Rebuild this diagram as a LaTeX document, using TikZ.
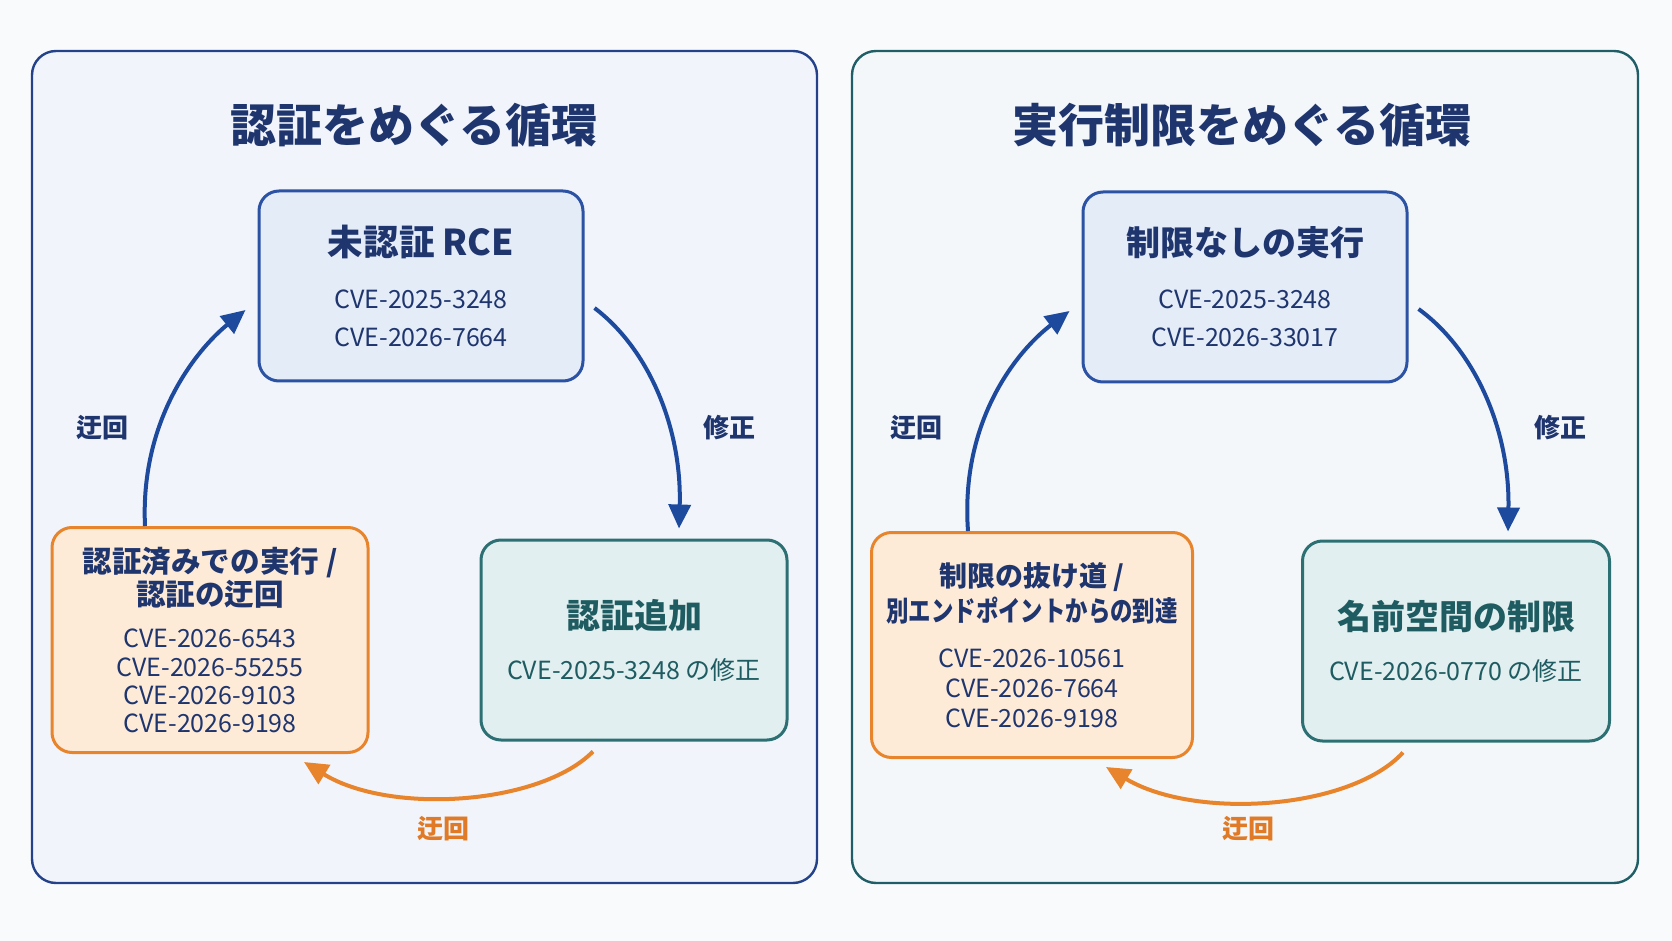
\documentclass[tikz,border=0pt]{standalone}
\usepackage{fontspec}
\setmainfont{Noto Sans CJK JP}
\newfontfamily\jpnarrow[FakeStretch=0.8]{Noto Sans CJK JP}
\usetikzlibrary{arrows.meta}
\definecolor{pagebg}{HTML}{F9FAFC}
\definecolor{navytext}{HTML}{1F356E}
\definecolor{arrowblue}{HTML}{1E4A9E}
\definecolor{panelblue}{HTML}{24428A}
\definecolor{panelteal}{HTML}{1F5E66}
\definecolor{panelfillL}{HTML}{F1F5FB}
\definecolor{panelfillR}{HTML}{F3F7F9}
\definecolor{topfill}{HTML}{E4ECF8}
\definecolor{topline}{HTML}{2C52A3}
\definecolor{bypline}{HTML}{E8842C}
\definecolor{bypfill}{HTML}{FDEBD8}
\definecolor{fixline}{HTML}{2C7074}
\definecolor{fixfill}{HTML}{E2EFF0}
\definecolor{fixtext}{HTML}{1E5C61}
\definecolor{detourtext}{HTML}{E07A26}

\begin{document}
\begin{tikzpicture}[x=0.5pt, y=-0.5pt,
	panel/.style={line width=1.2pt, rounded corners=12pt},
	cycbox/.style={rectangle, rounded corners=10pt, line width=1.5pt, align=center, inner sep=0pt},
	topbox/.style={cycbox, draw=topline, fill=topfill, text=navytext, minimum width=162pt, minimum height=95pt, font=\fontsize{12.5}{19}\selectfont},
	bypbox/.style={cycbox, draw=bypline, fill=bypfill, text=navytext, minimum height=112.5pt},
	fixbox/.style={cycbox, draw=fixline, fill=fixfill, text=fixtext, minimum width=153pt, minimum height=100pt, font=\fontsize{12.5}{19}\selectfont},
	cyctitle/.style={text=navytext, font=\fontsize{23}{28}\selectfont\bfseries},
	edgelabel/.style={font=\fontsize{13}{16}\selectfont\bfseries},
	fixarrow/.style={draw=arrowblue, line width=2pt, -{Triangle[length=12pt,width=11pt]}},
	detourarrow/.style={draw=bypline, line width=2pt, -{Triangle[length=12pt,width=11pt]}}]
	\fill[pagebg] (0,0) rectangle (1672,941);
	\useasboundingbox (0,0) rectangle (1672,941);
	\draw[panel, draw=panelblue, fill=panelfillL] (32,51) rectangle (817,883);
	\draw[panel, draw=panelteal, fill=panelfillR] (852,51) rectangle (1638,883);

	\node[cyctitle] (titleL) at (414,125) {認証をめぐる循環};
	\node[topbox] (topL) at (421,286) {{\fontsize{17.8}{20}\selectfont\bfseries 未認証 RCE}\\[7.5pt]CVE-2025-3248\\CVE-2026-7664};
	\node[fixbox] (fixL) at (634,640) {{\fontsize{17}{20}\selectfont\bfseries 認証追加}\\[6.5pt]CVE-2025-3248 の修正};
	\node[bypbox, minimum width=158pt, font=\fontsize{12.5}{14.2}\selectfont] (bypL) at (210,640) {{\fontsize{14.8}{17}\selectfont\bfseries 認証済みでの実行 /}\\[0.5pt]{\fontsize{14.8}{17}\selectfont\bfseries 認証の迂回}\\[6.8pt]CVE-2026-6543\\CVE-2026-55255\\CVE-2026-9103\\CVE-2026-9198};
	\draw[fixarrow] (bypL.north -| 145,0) .. controls (140,420) and (196,350) .. ([xshift=-6pt,yshift=-12pt]topL.west);
	\draw[fixarrow] ([xshift=5pt,yshift=-11pt]topL.east) .. controls (650,350) and (682,430) .. ([yshift=5pt]fixL.north -| 679,0);
	\draw[detourarrow] ([yshift=-5pt]fixL.south -| 593,0) .. controls (540,805) and (390,815) .. ([yshift=-4pt]bypL.south -| 304,0);
	\node[edgelabel, text=navytext] (detourupL) at (102,428) {迂回};
	\node[edgelabel, text=navytext] (patchL) at (729,428) {修正};
	\node[edgelabel, text=detourtext] (detourlowL) at (443,829) {迂回};

	\node[cyctitle] (titleR) at (1242,125) {実行制限をめぐる循環};
	\node[topbox] (topR) at (1245,287) {{\fontsize{17}{20}\selectfont\bfseries 制限なしの実行}\\[7.5pt]CVE-2025-3248\\CVE-2026-33017};
	\node[fixbox, minimum width=153.5pt] (fixR) at (1456,641) {{\fontsize{17}{20}\selectfont\bfseries 名前空間の制限}\\[6.5pt]CVE-2026-0770 の修正};
	\node[bypbox, minimum width=160.5pt, font=\fontsize{12.5}{15}\selectfont] (bypR) at (1032,645) {{\fontsize{14}{17}\selectfont\bfseries 制限の抜け道 /}\\[2.5pt]{\jpnarrow\fontsize{14}{17}\selectfont\bfseries 別エンドポイントからの到達}\\[8pt]CVE-2026-10561\\CVE-2026-7664\\CVE-2026-9198};
	\draw[fixarrow] (bypR.north -| 968,0) .. controls (960,420) and (1018,350) .. ([xshift=-6pt,yshift=-12pt]topR.west);
	\draw[fixarrow] ([xshift=5pt,yshift=-11pt]topR.east) .. controls (1475,350) and (1510,430) .. ([yshift=4pt]fixR.north -| 1508,0);
	\draw[detourarrow] ([yshift=-5pt]fixR.south -| 1403,0) .. controls (1350,810) and (1195,820) .. ([yshift=-4pt]bypR.south -| 1106,0);
	\node[edgelabel, text=navytext] (detourupR) at (916,428) {迂回};
	\node[edgelabel, text=navytext] (patchR) at (1560,428) {修正};
	\node[edgelabel, text=detourtext] (detourlowR) at (1248,829) {迂回};
\end{tikzpicture}
\end{document}
